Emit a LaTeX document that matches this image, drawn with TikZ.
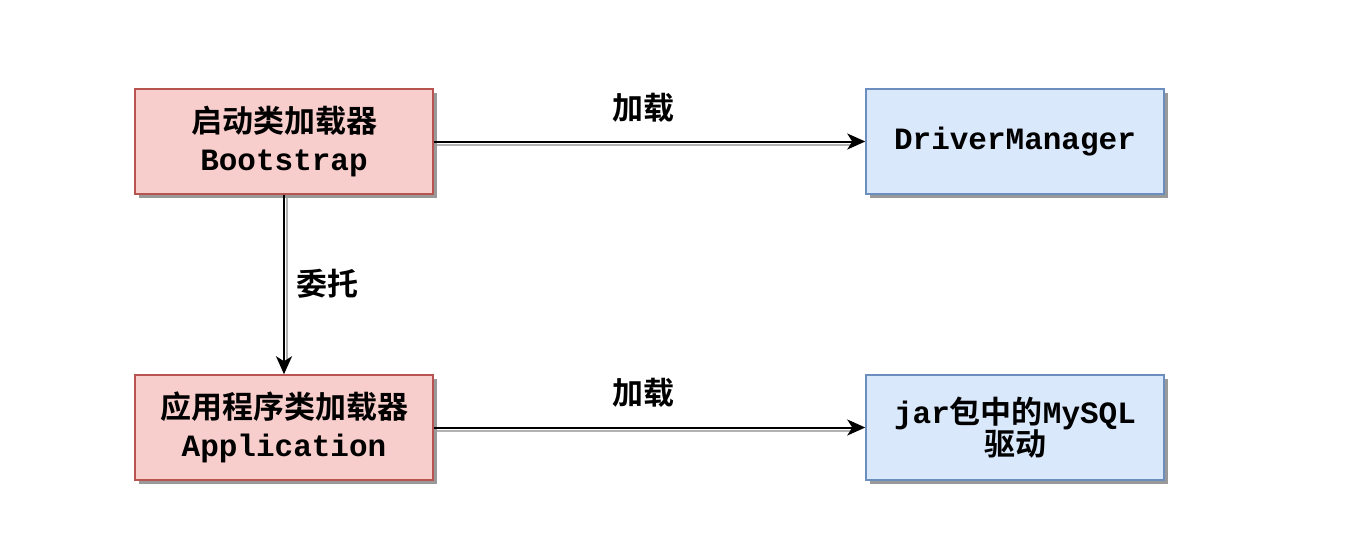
\documentclass[tikz,border=0pt]{standalone}
\usepackage{fontspec}
\setmonofont{Liberation Mono}
\newfontfamily\cjk{Noto Sans CJK SC Bold}
\usetikzlibrary{arrows.meta,shadows}
\definecolor{redfill}{HTML}{F8CECC}
\definecolor{redline}{HTML}{B85450}
\definecolor{bluefill}{HTML}{DAE8FC}
\definecolor{blueline}{HTML}{6C8EBF}
\begin{document}
\begin{tikzpicture}[x=1pt,y=-1pt,
  boxbase/.style={rectangle, line width=1.5pt, minimum width=298pt, minimum height=105pt,
    inner sep=0pt, align=center, font=\fontsize{31pt}{40pt}\selectfont,
    drop shadow={shadow xshift=4pt, shadow yshift=-4pt, fill=black!40, opacity=1}},
  redbox/.style={boxbase, draw=redline, fill=redfill},
  bluebox/.style={boxbase, draw=blueline, fill=bluefill},
  conn/.style={line width=2pt, -{Stealth[length=18pt,width=16pt,inset=5pt]},
    preaction={draw=black!30, line width=2pt, -, shorten >=14pt, transform canvas={xshift=3pt,yshift=-3pt}}},
  lbl/.style={font=\cjk\fontsize{31pt}{36pt}\selectfont, inner sep=0pt}]
\useasboundingbox (0,0) rectangle (1354,557);
\node[redbox] (boot) at (284,141.5) {{\cjk 启动类加载器}\\[-2pt]{\ttfamily\bfseries Bootstrap}};
\node[bluebox] (dm) at (1015,141.5) {\ttfamily\bfseries DriverManager};
\node[redbox] (app) at (284,427.5) {{\cjk 应用程序类加载器}\\[-2pt]{\ttfamily\bfseries Application}};
\node[bluebox] (jar) at (1015,427.5) {{\ttfamily\bfseries jar}{\cjk 包中的}{\ttfamily\bfseries MySQL}\\[-8pt]{\cjk 驱动}};
\draw[conn] (boot) -- (dm);
\draw[conn] (boot) -- (app);
\draw[conn] (app) -- (jar);
\node[lbl] (l1) at (643,108) {加载};
\node[lbl] (l2) at (643,393) {加载};
\node[lbl] (l3) at (327,284) {委托};
\end{tikzpicture}
\end{document}
